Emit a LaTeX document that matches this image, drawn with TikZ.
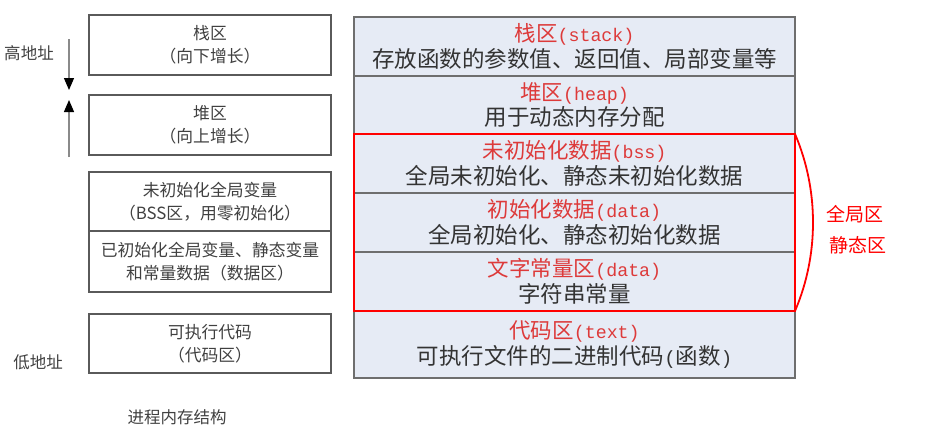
\documentclass[tikz,border=0pt]{standalone}
\usepackage{fontspec}
\setmainfont{Noto Sans CJK SC}
\newfontfamily\mono{Liberation Mono}[Scale=0.85]
\usetikzlibrary{arrows.meta}
\definecolor{rowfill}{HTML}{E6EBF5}
\definecolor{rowborder}{HTML}{6E6E6E}
\definecolor{titlered}{HTML}{DD3A3A}
\definecolor{bodytext}{HTML}{333333}
\definecolor{lefttext}{HTML}{404040}
\definecolor{leftborder}{HTML}{5A5A5A}
\definecolor{arrowgray}{HTML}{8A8A8A}
\definecolor{boxred}{HTML}{FF0000}
\newcommand{\ttl}[1]{{\color{titlered}\fontsize{21.5}{25.5}\selectfont #1}}
\begin{document}
\begin{tikzpicture}[x=1pt,y=-1pt,
  leftbox/.style={draw=leftborder,line width=1.2pt,minimum width=242pt,inner sep=0pt,align=center,text=lefttext,font=\fontsize{16.8}{23}\selectfont},
  rowbox/.style={draw=rowborder,fill=rowfill,line width=1.3pt,minimum width=441pt,inner sep=0pt,outer sep=0pt,align=center,text=bodytext,font=\fontsize{22.5}{25.5}\selectfont},
  sidelabel/.style={text=lefttext,font=\fontsize{16.5}{20}\selectfont,inner sep=0pt},
  redlabel/.style={text=boxred,font=\fontsize{19}{20}\selectfont,inner sep=0pt},
  growarrow/.style={draw=arrowgray,line width=1.3pt,-{Triangle[length=12pt,width=10pt,color=black]}},
  redline/.style={draw=boxred,line width=1.8pt}
]
\useasboundingbox (0,0) rectangle (941,439);
% left column
\node[leftbox,minimum height=60pt] (l1) at (210,45) {栈区\\（向下增长）};
\node[leftbox,minimum height=60pt] (l2) at (210,125) {堆区\\（向上增长）};
\node[leftbox,minimum height=59pt] (l3) at (210,201.5) {未初始化全局变量\\（BSS区，用零初始化）};
\node[leftbox,minimum height=61pt] (l4) at (210,261.5) {已初始化全局变量、静态变量\\和常量数据（数据区）};
\node[leftbox,minimum height=59pt] (l5) at (210,343.5) {可执行代码\\（代码区）};
\node[sidelabel] (hi) at (29,53) {高地址};
\node[sidelabel] (lo) at (38,362) {低地址};
\node[sidelabel] (cap) at (177,417) {进程内存结构};
\coordinate (a1s) at (69,39);
\coordinate (a1e) at (69,90);
\coordinate (a2s) at (69,157);
\coordinate (a2e) at (69,100);
\draw[growarrow] (a1s) -- (a1e);
\draw[growarrow] (a2s) -- (a2e);
% right column
\node[rowbox,minimum height=59pt] (r1) at (574.5,46.5) {\ttl{栈区{\mono(stack)}}\\存放函数的参数值、返回值、局部变量等};
\node[rowbox,minimum height=58pt] (r2) at (574.5,105) {\ttl{堆区{\mono(heap)}}\\用于动态内存分配};
\node[rowbox,minimum height=59pt] (r3) at (574.5,163.5) {\ttl{未初始化数据{\mono(bss)}}\\全局未初始化、静态未初始化数据};
\node[rowbox,minimum height=59pt] (r4) at (574.5,222.5) {\ttl{初始化数据{\mono(data)}}\\全局初始化、静态初始化数据};
\node[rowbox,minimum height=59pt] (r5) at (574.5,281.5) {\ttl{文字常量区{\mono(data)}}\\字符串常量};
\node[rowbox,minimum height=67pt] (r6) at (574.5,344.5) {\ttl{代码区{\mono(text)}}\\可执行文件的二进制代码{\mono(}函数{\mono)}};
\coordinate (rtl) at (r3.north west);
\coordinate (rbr) at (r5.south east);
\coordinate (rtr) at (r3.north east);
\draw[redline] (rtl) rectangle (rbr);
\draw[redline] (rtr) .. controls (819,190) and (819,255) .. (rbr);
\node[redlabel] (g1) at (855,214) {全局区};
\node[redlabel] (g2) at (858,245) {静态区};
\end{tikzpicture}
\end{document}
